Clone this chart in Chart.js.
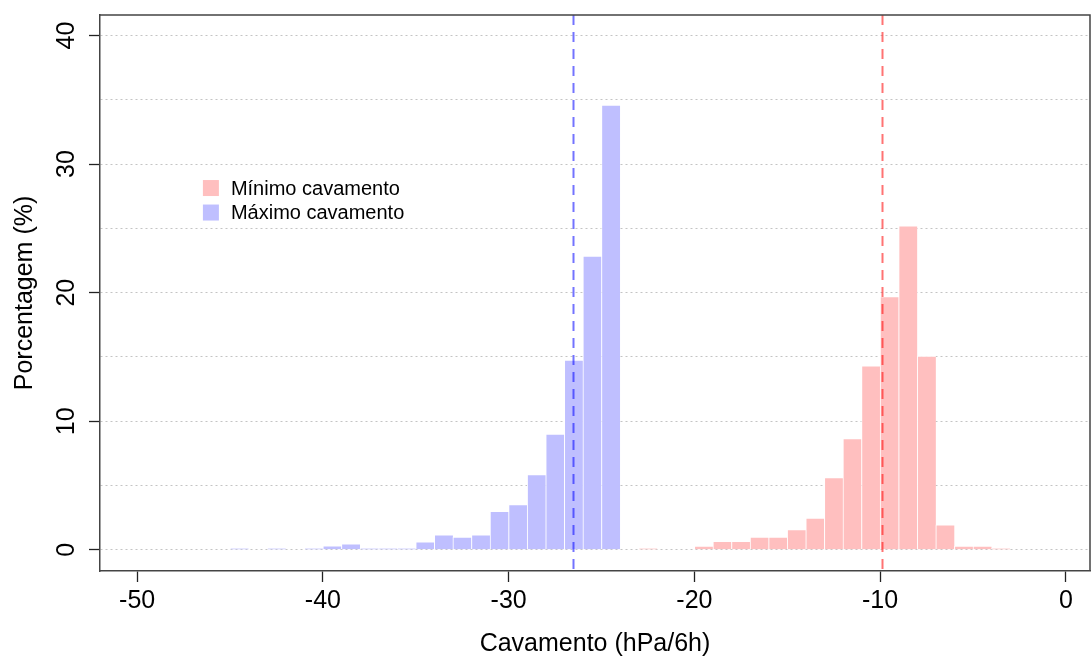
<!DOCTYPE html>
<html>
<head>
<meta charset="utf-8">
<script src="https://cdn.jsdelivr.net/npm/chart.js@4.4.1/dist/chart.umd.min.js"></script>
<style>
html,body{margin:0;padding:0;background:#fff;}
#wrap{width:1092px;height:657px;position:relative;}
</style>
</head>
<body>
<div id="wrap"><canvas id="c" width="1092" height="657"></canvas></div>
<script>
// ---- data (bin left edges, width 1 hPa/6h; values in %) ----
const maxBinStarts = [-45,-44,-43,-42,-41,-40,-39,-38,-37,-36,-35,-34,-33,-32,-31,-30,-29,-28,-27,-26,-25];
const maxValues    = [0.1, 0, 0.1, 0, 0.1, 0.3, 0.47,0.1, 0.1, 0.1, 0.62,1.17,0.99,1.17,2.99,3.51,5.85,9.0,14.75,22.85,34.6];
const minBinStarts = [-23,-22,-21,-20,-19,-18,-17,-16,-15,-14,-13,-12,-11,-10,-9,-8,-7,-6,-5,-4];
const minValues    = [0.1, 0, 0, 0.29,0.65,0.65,0.99,0.99,1.58,2.47,5.61,8.65,14.3,19.7,25.2,15.07,1.95,0.29,0.29,0.1];
const seriesLabels = ['Mínimo cavamento', 'Máximo cavamento'];
const meanValues   = [-9.89, -26.55];          // mínimo, máximo
const xTicks = [-50,-40,-30,-20,-10,0];
const yTicks = [0,5,10,15,20,25,30,35,40];     // gridlines every 5, labels every 10

const FONT = '"Liberation Sans", Arial, Helvetica, sans-serif';
const fillColors = ['#FFBFBF', '#BFBFFF'];
const lineColors = ['rgba(255,0,0,0.55)', 'rgba(0,0,255,0.55)'];

const toPoints = (starts, vals) => starts.map((s, i) => ({x: s + 0.5, y: vals[i]}));

const overlay = {
  id: 'overlay',
  afterDatasetsDraw(chart) {
    const {ctx, chartArea: a, scales: {x, y}} = chart;
    // mean lines
    ctx.save();
    ctx.setLineDash([10, 7]);
    ctx.lineWidth = 2;
    meanValues.forEach((m, i) => {
      const px = Math.round(x.getPixelForValue(m)) + 0.5;
      ctx.strokeStyle = lineColors[i];
      ctx.beginPath();
      ctx.moveTo(px, a.top);
      ctx.lineTo(px, a.bottom);
      ctx.stroke();
    });
    ctx.restore();
    // legend (anchored in data coordinates)
    const lx = x.getPixelForValue(-46.46);
    const ly = y.getPixelForValue(28.14);
    ctx.save();
    ctx.font = '20px ' + FONT;
    ctx.textBaseline = 'middle';
    ctx.textAlign = 'left';
    seriesLabels.forEach((lab, i) => {
      const cy = ly + i * 24.5;
      ctx.fillStyle = fillColors[i];
      ctx.fillRect(lx, cy - 8, 16, 16);
      ctx.fillStyle = '#000';
      ctx.fillText(lab, lx + 28, cy + 1);
    });
    ctx.restore();
  },
  afterDraw(chart) {
    const {ctx, chartArea: a} = chart;
    ctx.save();
    ctx.strokeStyle = '#444';
    ctx.lineWidth = 1.5;
    ctx.beginPath();
    ctx.moveTo(a.left, a.top);
    ctx.lineTo(a.right, a.top);
    ctx.lineTo(a.right, a.bottom);
    ctx.stroke();
    ctx.restore();
  }
};

new Chart(document.getElementById('c'), {
  type: 'bar',
  data: {
    datasets: [
      {
        label: seriesLabels[0],
        data: toPoints(minBinStarts, minValues),
        backgroundColor: fillColors[0],
        borderColor: 'rgba(255,255,255,0.9)',
        borderWidth: {left: 1, right: 0, top: 1, bottom: 0},
        borderSkipped: false,
        grouped: false,
        barPercentage: 1,
        categoryPercentage: 1
      },
      {
        label: seriesLabels[1],
        data: toPoints(maxBinStarts, maxValues),
        backgroundColor: fillColors[1],
        borderColor: 'rgba(255,255,255,0.9)',
        borderWidth: {left: 1, right: 0, top: 1, bottom: 0},
        borderSkipped: false,
        grouped: false,
        barPercentage: 1,
        categoryPercentage: 1
      }
    ]
  },
  options: {
    responsive: false,
    animation: false,
    devicePixelRatio: 1,
    layout: {padding: {top: 15, right: 2, left: 0, bottom: 0}},
    plugins: {legend: {display: false}, tooltip: {enabled: false}},
    scales: {
      x: {
        type: 'linear',
        min: -52,
        max: 1.3,
        offset: false,
        afterBuildTicks: s => { s.ticks = xTicks.map(v => ({value: v})); },
        afterFit: s => { s.height = 86; s.paddingLeft = 0; s.paddingRight = 0; },
        grid: {display: true, offset: false, drawOnChartArea: false, drawTicks: true, tickLength: 11, tickColor: '#222', tickWidth: 1.3},
        border: {display: true, color: '#444', width: 1.5},
        ticks: {
          color: '#000', font: {family: FONT, size: 25}, padding: 4,
          maxRotation: 0, minRotation: 0, autoSkip: false,
          callback: v => String(v)
        },
        title: {
          display: true, text: 'Cavamento (hPa/6h)', color: '#000',
          font: {family: FONT, size: 25}, padding: {top: 0, bottom: -2}
        }
      },
      y: {
        min: -1.65,
        max: 41.6,
        afterBuildTicks: s => { s.ticks = yTicks.map(v => ({value: v})); },
        afterFit: s => { s.width = 100; s.paddingTop = 0; s.paddingBottom = 0; },
        grid: {
          color: '#c4c4c4', lineWidth: 1, drawTicks: true, tickLength: 11,
          tickColor: c => (c.tick && c.tick.value % 10 === 0) ? '#222' : 'rgba(0,0,0,0)',
          tickWidth: 1.3
        },
        border: {display: true, color: '#444', width: 1.5, dash: [2, 3]},
        ticks: {
          color: '#000', font: {family: FONT, size: 25}, padding: 8,
          minRotation: 90, maxRotation: 90, autoSkip: false, crossAlign: 'center',
          callback: v => (v % 10 === 0 ? String(v) : '')
        },
        title: {
          display: true, text: 'Porcentagem (%)', color: '#000',
          font: {family: FONT, size: 25}, padding: {top: 10, bottom: 0}
        }
      }
    }
  },
  plugins: [overlay]
});
</script>
</body>
</html>
